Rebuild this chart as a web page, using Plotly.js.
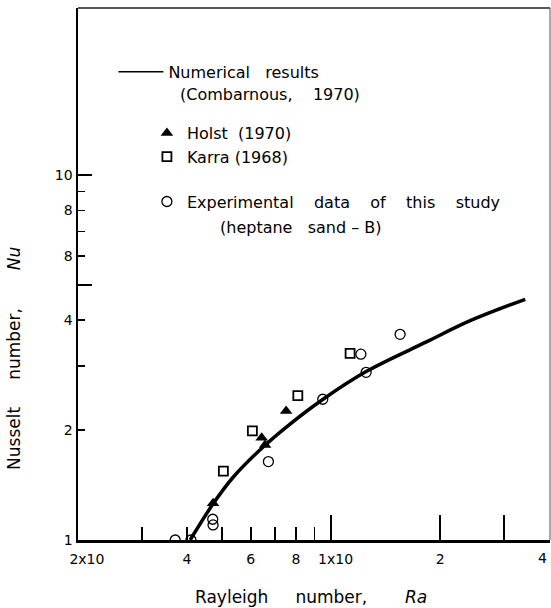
<!DOCTYPE html>
<html>
<head>
<meta charset="utf-8">
<script src="https://cdn.plot.ly/plotly-3.0.1.min.js"></script>
<style>html,body{margin:0;padding:0;background:#fff;}#chart{width:551px;height:608px;}</style>
</head>
<body>
<div id="chart"></div>
<script>
// Numerical results (Combarnous, 1970)
const numRa = [40.8, 47.3, 53.7, 65.0, 77.0, 95.2, 124.9, 183.8, 242, 343.4];
const numNu = [1.0, 1.26, 1.488, 1.801, 2.078, 2.434, 2.894, 3.494, 3.988, 4.565];
// Holst (1970)
const holstRa = [47.2, 64.3, 65.7, 75.1];
const holstNu = [1.26, 1.906, 1.82, 2.256];
// Karra (1968)
const karraRa = [50.4, 60.6, 80.9, 112.8];
const karraNu = [1.545, 1.99, 2.485, 3.247];
// Experimental data of this study (heptane sand - B)
const expRa = [37.1, 41.0, 47.1, 47.2, 67.1, 94.8, 120.8, 124.9, 155];
const expNu = [1.0, 1.0, 1.14, 1.10, 1.64, 2.43, 3.23, 2.88, 3.66];

const NB = '\u00A0';
// axis ticks
const xTickVals = [20, 30, 40, 50, 60, 70, 80, 90, 100, 200, 400];
const xTickText = [NB + NB + NB + NB + '2x10', '', '4', '', '6', '', '8', '', NB + NB + '1x10', '2', ''];
const xEndVal = 400, xEndText = '4';   // last x label, drawn right-aligned at the plot edge
const xLongTicks = [100, 200, 300];
const yTickVals = [1, 2, 3, 4, 6, 7, 8, 9, 10];
const yTickText = ['1', '2', '', '4', '8', '', '8', '', '10'];
const yLongTicks = [5, 10];

const FONT = 'DejaVu Sans, sans-serif';
const sp = n => NB.repeat(n);

const traces = [
  {x: numRa, y: numNu, type: 'scatter', mode: 'lines', line: {color: '#000', width: 3.5, shape: 'spline', smoothing: 1}, showlegend: false, hoverinfo: 'skip'},
  {x: [null], y: [null], xaxis: 'x2', yaxis: 'y2', type: 'scatter', mode: 'lines', name: 'Numerical' + sp(3) + 'results', line: {color: '#000', width: 1.5}, legend: 'legend2'},
  {x: holstRa, y: holstNu, type: 'scatter', mode: 'markers', name: 'Holst' + sp(2) + '(1970)', legendgroup: 'a', marker: {symbol: 'triangle-up', size: 11, color: '#000'}},
  {x: karraRa, y: karraNu, type: 'scatter', mode: 'markers', name: 'Karra' + sp(1) + '(1968)', legendgroup: 'a', marker: {symbol: 'square-open', size: 9, color: '#000', line: {width: 1.8}}},
  {x: expRa, y: expNu, type: 'scatter', mode: 'markers', name: 'Experimental' + sp(4) + 'data' + sp(4) + 'of' + sp(4) + 'this' + sp(4) + 'study', legendgroup: 'b', marker: {symbol: 'circle-open', size: 10, color: '#000', line: {width: 1.3}}}
];

const xr = [Math.log10(20), Math.log10(402)];
const yr = [0, 1.4575];

const layout = {
  width: 551, height: 608,
  margin: {l: 78, r: 1, t: 8, b: 68},
  paper_bgcolor: '#fff', plot_bgcolor: '#fff',
  font: {family: FONT, size: 16, color: '#000'},
  xaxis: {type: 'log', range: xr, tickmode: 'array', tickvals: xTickVals, ticktext: xTickText,
    ticks: 'inside', ticklen: 13, tickwidth: 1.5, tickcolor: '#000', showgrid: false, zeroline: false,
    showline: true, linewidth: 2.5, linecolor: '#000', tickfont: {size: 14, family: FONT}, ticklabelstandoff: 5},
  xaxis2: {type: 'log', range: xr, overlaying: 'x', anchor: 'y2', side: 'bottom', tickmode: 'array', tickvals: xLongTicks,
    ticks: 'inside', ticklen: 25, tickwidth: 1.5, tickcolor: '#000', showticklabels: false, showgrid: false, zeroline: false, showline: false},
  yaxis: {type: 'log', range: yr, tickmode: 'array', tickvals: yTickVals, ticktext: yTickText,
    ticks: 'inside', ticklen: 7, tickwidth: 1.5, tickcolor: '#000', showgrid: false, zeroline: false,
    showline: true, linewidth: 2.5, linecolor: '#000', tickfont: {size: 14, family: FONT}},
  yaxis2: {type: 'log', range: yr, overlaying: 'y', anchor: 'x2', side: 'left', tickmode: 'array', tickvals: yLongTicks,
    ticks: 'inside', ticklen: 14, tickwidth: 1.5, tickcolor: '#000', showticklabels: false, showgrid: false, zeroline: false, showline: false},
  legend: {x: 0.146, y: 0.797, xanchor: 'left', yanchor: 'top', bgcolor: 'rgba(0,0,0,0)', borderwidth: 0,
    traceorder: 'grouped', tracegroupgap: 21, font: {size: 16, family: FONT}},
  legend2: {x: 0.075, y: 0.912, xanchor: 'left', yanchor: 'top', bgcolor: 'rgba(0,0,0,0)', borderwidth: 0,
    itemwidth: 45, font: {size: 16, family: FONT}},
  shapes: [
    {type: 'line', xref: 'paper', yref: 'paper', x0: 0, x1: 1, y0: 1, y1: 1, line: {color: '#222', width: 1.5}},
    {type: 'line', xref: 'paper', yref: 'paper', x0: 1, x1: 1, y0: 0, y1: 1, line: {color: '#555', width: 1}}
  ],
  annotations: [
    {xref: 'x', yref: 'paper', x: Math.log10(xEndVal), y: -0.034, xanchor: 'right', yanchor: 'middle', showarrow: false,
      text: xEndText, font: {size: 14, family: FONT}},
    {xref: 'paper', yref: 'paper', x: 0.2119, y: 0.838, xanchor: 'left', yanchor: 'middle', showarrow: false,
      text: '(Combarnous,' + sp(4) + '1970)', font: {size: 16, family: FONT}},
    {xref: 'paper', yref: 'paper', x: 0.2966, y: 0.588, xanchor: 'left', yanchor: 'middle', showarrow: false,
      text: '(heptane' + sp(3) + 'sand' + sp(1) + '–' + sp(1) + 'B)', font: {size: 16, family: FONT}},
    {xref: 'paper', yref: 'paper', x: 0.494, y: -0.107, xanchor: 'center', yanchor: 'middle', showarrow: false,
      text: 'Rayleigh' + sp(5) + 'number,' + sp(7) + '<i>Ra</i>', font: {size: 17, family: FONT}},
    {xref: 'paper', yref: 'paper', x: -0.137, y: 0.341, xanchor: 'center', yanchor: 'middle', showarrow: false, textangle: -90,
      text: 'Nusselt' + sp(5) + 'number,' + sp(7) + '<i>Nu</i>', font: {size: 17, family: FONT}}
  ]
};

Plotly.newPlot('chart', traces, layout, {staticPlot: true, displayModeBar: false});
</script>
</body>
</html>
